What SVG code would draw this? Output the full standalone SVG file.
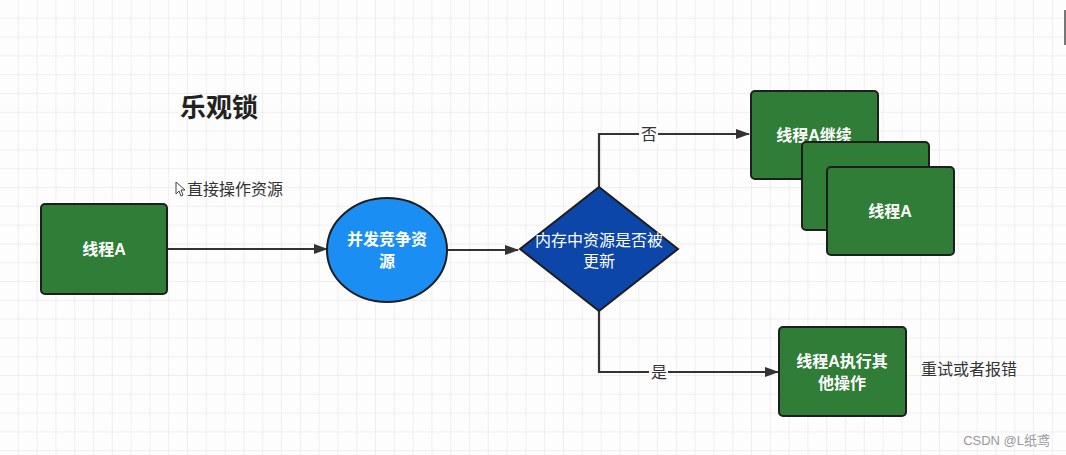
<svg xmlns="http://www.w3.org/2000/svg" width="1066" height="455" viewBox="0 0 1066 455">
<defs>
<pattern id="grid" x="0" y="0" width="18.8" height="18.8" patternUnits="userSpaceOnUse">
<path d="M18.8 0 V18.8 M0 18.8 H18.8" fill="none" stroke="#e2e2e2" stroke-width="1"/>
</pattern>
<marker id="arr" viewBox="0 0 14 10" refX="13" refY="5" markerWidth="14" markerHeight="10" markerUnits="userSpaceOnUse" orient="auto">
<path d="M0 0 L14 5 L0 10 Z" fill="#333"/>
</marker>
</defs>
<style>
.box{fill:#2f7d36;stroke:#1e1e1e;stroke-width:2}
.wt{fill:#fff;font-family:"Liberation Sans","Noto Sans CJK SC",sans-serif;font-size:16px;font-weight:bold;text-anchor:middle}
.wn{fill:#fff;font-family:"Liberation Sans","Noto Sans CJK SC",sans-serif;font-size:16px;text-anchor:middle}
.lbl{fill:#333;font-family:"Liberation Sans","Noto Sans CJK SC",sans-serif;font-size:16px}
.conn{fill:none;stroke:#333;stroke-width:2.2}
</style>
<rect width="1066" height="455" fill="#fdfdfd"/>
<rect width="1066" height="455" fill="url(#grid)"/>
<rect x="1064" y="10" width="2" height="35" fill="#777"/>

<g id="title">
<text x="219" y="117" style="fill:#222;font-family:'Noto Sans CJK SC',sans-serif;font-size:26px;font-weight:bold;text-anchor:middle">乐观锁</text>
</g>

<g id="connectors">
<path class="conn" d="M167 249 H327" marker-end="url(#arr)"/>
<path class="conn" d="M447 250 H518" marker-end="url(#arr)"/>
<path class="conn" d="M599 187 V134 H749" marker-end="url(#arr)"/>
<path class="conn" d="M599 311 V372 H778" marker-end="url(#arr)"/>
<rect x="639" y="123" width="19" height="21" fill="#fdfdfd"/>
<text class="lbl" x="649" y="140" text-anchor="middle">否</text>
<rect x="649" y="361" width="19" height="21" fill="#fdfdfd"/>
<text class="lbl" x="659" y="378" text-anchor="middle">是</text>
</g>

<g id="note-direct">
<path d="M176 182 V194 L179 191 L181 196 L183 195 L181 190 L185 190 Z" fill="#fff" stroke="#444" stroke-width="1"/>
<text class="lbl" x="187" y="195">直接操作资源</text>
</g>

<g id="threadA">
<rect class="box" x="41" y="204" width="126" height="90" rx="4"/>
<text class="wt" x="104" y="255">线程A</text>
</g>

<g id="compete">
<ellipse cx="387" cy="250" rx="60" ry="52" fill="#1a8ef2" stroke="#1e1e1e" stroke-width="2"/>
<text class="wt" x="387" y="245">并发竞争资</text>
<text class="wt" x="387" y="267">源</text>
</g>

<g id="decision">
<path d="M599 187 L678 249 L599 311 L520 249 Z" fill="#0b46a8" stroke="#1e1e1e" stroke-width="2"/>
<text class="wn" x="599" y="246">内存中资源是否被</text>
<text class="wn" x="599" y="267">更新</text>
</g>

<g id="continue">
<rect class="box" x="751" y="91" width="127" height="88" rx="4"/>
<text class="wt" x="814" y="141">线程A继续</text>
</g>
<g id="stack2">
<rect class="box" x="802" y="142" width="127" height="88" rx="4"/>
</g>
<g id="stack3">
<rect class="box" x="827" y="167" width="127" height="88" rx="4"/>
<text class="wt" x="890" y="217">线程A</text>
</g>

<g id="other">
<rect class="box" x="779" y="327" width="127" height="89" rx="4"/>
<text class="wt" x="842" y="367">线程A执行其</text>
<text class="wt" x="842" y="389">他操作</text>
</g>

<g id="note-retry">
<text class="lbl" x="921" y="375">重试或者报错</text>
</g>

<text x="1050" y="445" text-anchor="end" style="fill:#999;font-family:'Liberation Sans','Noto Sans CJK SC',sans-serif;font-size:13px">CSDN @L纸鸢</text>
</svg>
